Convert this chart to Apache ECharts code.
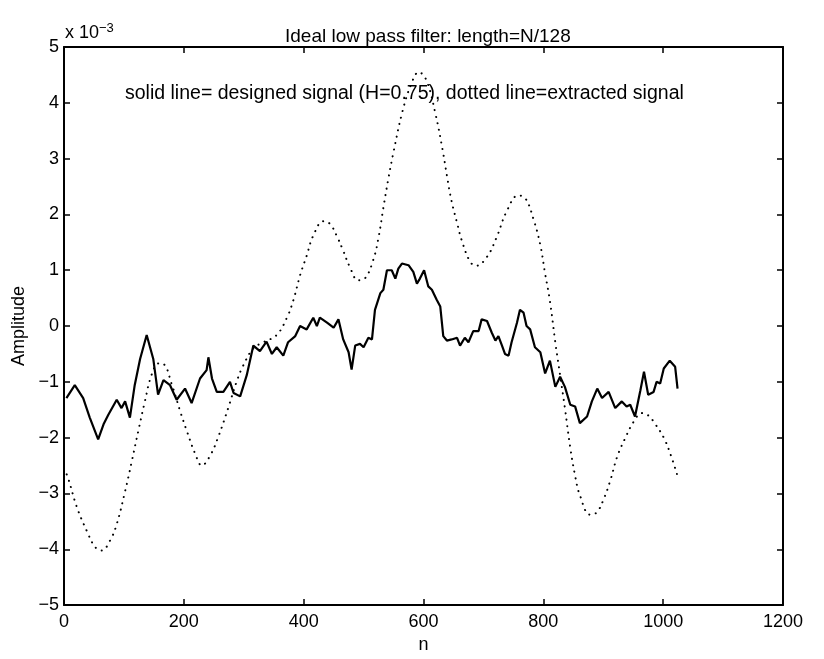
<!DOCTYPE html>
<html><head><meta charset="utf-8">
<script src="https://cdn.jsdelivr.net/npm/echarts@6/dist/echarts.min.js"></script>
<style>html,body{margin:0;padding:0;background:#fff}#c{width:824px;height:659px}</style>
</head><body><div id="c"></div>
<script>
// values in units of 1e-3
var designedN = [4,18,32,43,57,66,74,88,96,102,110,118,127,138,149,157,166,177,188,202,213,227,238,241,247,255,266,277,283,294,305,316,327,338,347,355,366,374,386,394,405,416,422,427,439,450,458,466,475,480,486,494,500,508,514,519,528,533,539,547,553,558,564,575,583,589,594,601,608,614,622,628,633,639,647,656,661,669,675,683,692,697,706,714,720,725,731,736,742,747,756,761,767,772,778,786,795,803,811,820,828,836,845,853,861,873,881,890,898,909,920,931,939,945,953,962,968,975,984,989,995,1001,1011,1020,1024];
var designedV = [-1.29,-1.06,-1.29,-1.64,-2.03,-1.76,-1.59,-1.32,-1.47,-1.35,-1.64,-1.06,-0.59,-0.16,-0.59,-1.23,-0.97,-1.06,-1.32,-1.12,-1.38,-0.94,-0.79,-0.56,-0.94,-1.18,-1.18,-1.0,-1.2,-1.26,-0.88,-0.35,-0.45,-0.28,-0.5,-0.38,-0.53,-0.29,-0.18,0.0,-0.06,0.15,0.0,0.15,0.06,-0.03,0.12,-0.24,-0.47,-0.78,-0.35,-0.32,-0.38,-0.21,-0.24,0.29,0.59,0.65,1.0,1.0,0.85,1.03,1.12,1.09,0.97,0.76,0.85,1.0,0.71,0.65,0.47,0.35,-0.18,-0.26,-0.24,-0.21,-0.35,-0.21,-0.29,-0.09,-0.09,0.12,0.09,-0.12,-0.26,-0.18,-0.35,-0.5,-0.53,-0.29,0.06,0.29,0.24,0.0,-0.06,-0.38,-0.47,-0.85,-0.62,-1.09,-0.91,-1.09,-1.41,-1.44,-1.74,-1.62,-1.35,-1.12,-1.29,-1.18,-1.47,-1.35,-1.44,-1.41,-1.62,-1.15,-0.82,-1.23,-1.18,-1.0,-1.03,-0.76,-0.62,-0.73,-1.12];
var extractedN = [0,7,21,38,52,63,77,88,102,113,124,135,146,158,166,180,194,205,219,230,244,258,274,288,299,316,333,355,372,383,394,405,416,433,444,455,466,477,491,502,516,525,533,541,550,565,580,592,605,620,632,639,647,656,664,678,688,706,722,739,758,770,784,795,803,811,820,828,836,845,853,861,878,889,900,912,923,937,951,964,975,987,1001,1012,1023];
var extractedV = [-2.55,-2.73,-3.23,-3.67,-3.96,-4.02,-3.84,-3.55,-2.96,-2.43,-1.88,-1.35,-0.88,-0.67,-0.68,-1.05,-1.53,-1.88,-2.29,-2.5,-2.32,-1.97,-1.47,-1.0,-0.71,-0.4,-0.29,-0.16,0.15,0.47,0.91,1.26,1.62,1.88,1.83,1.62,1.35,1.06,0.82,0.85,1.18,1.59,2.12,2.62,3.12,3.85,4.35,4.55,4.4,3.8,3.15,2.7,2.23,1.85,1.53,1.15,1.08,1.24,1.59,2.06,2.34,2.29,1.9,1.45,0.94,0.45,-0.29,-0.88,-1.47,-2.18,-2.68,-3.03,-3.38,-3.34,-3.12,-2.76,-2.35,-2.0,-1.71,-1.56,-1.6,-1.76,-2.0,-2.29,-2.65];
var xTicks = [0,200,400,600,800,1000,1200];
var yTicks = [-5,-4,-3,-2,-1,0,1,2,3,4,5];

function pairs(a,b){return a.map(function(v,i){return [v,b[i]];});}
function fmt(v){return String(v).replace('-','\u2212');}
var chart = echarts.init(document.getElementById('c'));
var F = '"Liberation Sans", Arial, sans-serif';
var lab = {color:'#000', fontSize:18, fontFamily:F};
var line = {onZero:false, lineStyle:{color:'#000',width:2}};
var tick = {inside:true,length:6,lineStyle:{color:'#000',width:1.5}};
chart.setOption({
  animation:false,
  title:{text:'Ideal low pass filter: length=N/128', left:280, top:22, textStyle:{color:'#000',fontSize:19,fontWeight:'normal',fontFamily:F}},
  grid:{left:64, right:41, top:47, bottom:44},
  xAxis:[{type:'value', min:0, max:1200, interval:200, position:'bottom',
    name:'n', nameLocation:'middle', nameGap:30, nameTextStyle:lab,
    axisLine:line, axisTick:tick,
    axisLabel:Object.assign({margin:8, formatter:fmt},lab), splitLine:{show:false}},
   {type:'value', min:0, max:1200, interval:200, position:'top',
    axisLine:line, axisTick:tick,
    axisLabel:{show:false}, splitLine:{show:false}}],
  yAxis:[{type:'value', min:-5, max:5, interval:1, position:'left',
    name:'Amplitude', nameLocation:'middle', nameGap:28, nameRotate:90, nameTextStyle:lab,
    axisLine:line, axisTick:tick,
    axisLabel:Object.assign({margin:5, formatter:fmt},lab), splitLine:{show:false}},
   {type:'value', min:-5, max:5, interval:1, position:'right',
    axisLine:line, axisTick:tick,
    axisLabel:{show:false}, splitLine:{show:false}}],
  graphic:[
    {type:'text', left:65, top:22, style:{text:'{a|x 10}{b|\u22123}', rich:{a:{fontSize:18,fontFamily:F,fill:'#000'},b:{fontSize:13,fontFamily:F,fill:'#000',verticalAlign:'top',padding:[0,0,10,0]}}}},
    {type:'text', left:125, top:84, style:{text:'solid line= designed signal (H=0.75), dotted line=extracted signal', fontSize:19.5, fontFamily:F, fill:'#000'}}
  ],
  series:[
    {type:'line', data:pairs(designedN,designedV), showSymbol:false, lineStyle:{color:'#000',width:2.2}},
    {type:'line', data:pairs(extractedN,extractedV), showSymbol:false, smooth:0.4, lineStyle:{color:'#000',width:2,type:[0.1,6.5],cap:'round'}}
  ]
});
</script></body></html>
